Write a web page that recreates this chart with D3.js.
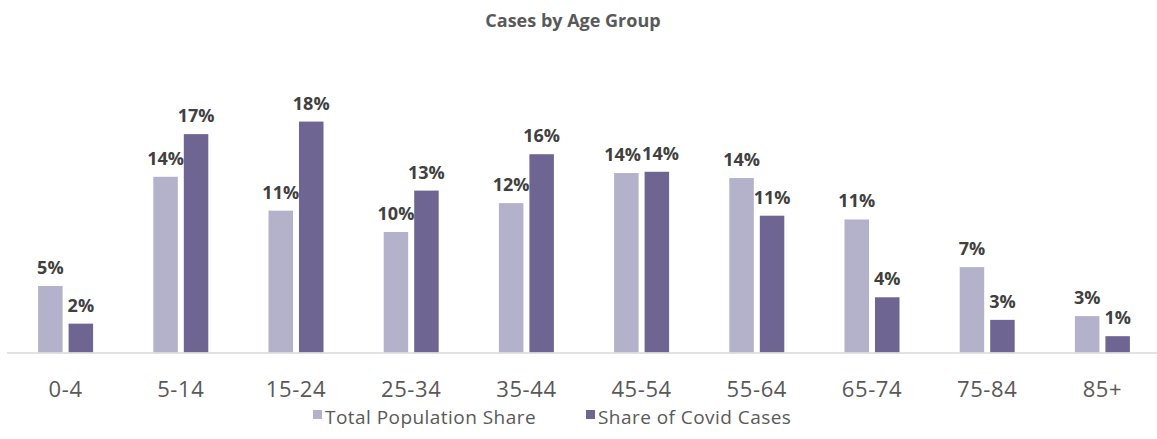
<!DOCTYPE html>
<html>
<head>
<meta charset="utf-8">
<script src="https://cdn.jsdelivr.net/npm/d3@7"></script>
<style>
  html, body { margin: 0; padding: 0; background: #fff; }
  svg { display: block; font-family: "Open Sans", "Noto Sans", sans-serif; }
</style>
</head>
<body>
<svg id="chart" width="1157" height="439"></svg>
<script>
// Age bands along the x axis
const ageGroups = ["0-4", "5-14", "15-24", "25-34", "35-44", "45-54", "55-64", "65-74", "75-84", "85+"];
// Share of the total population in each band (%)
const populationShare = [5.3, 14.0, 11.3, 9.6, 11.9, 14.3, 13.9, 10.6, 6.8, 2.9];
// Share of Covid cases in each band (%)
const covidShare = [2.3, 17.4, 18.4, 12.9, 15.8, 14.4, 10.9, 4.4, 2.6, 1.3];
// Series names for the legend
const seriesNames = ["Total Population Share", "Share of Covid Cases"];
const seriesColors = ["#b4b1cb", "#6f6592"];

const svg = d3.select("#chart");
const W = 1157;

const baseline = 352.5;
const yMax = 20;

const y = d3.scaleLinear().domain([0, yMax]).range([baseline, baseline - 251]);

const x0 = d3.scaleBand()
  .domain(ageGroups)
  .range([8, 1160])
  .paddingInner(0.5226)
  .paddingOuter(0.2613);

const x1 = d3.scaleBand()
  .domain(seriesNames)
  .range([0, x0.bandwidth()])
  .paddingInner(0.197)
  .paddingOuter(0);

const rows = ageGroups.map((g, i) => ({
  group: g,
  values: [
    { key: seriesNames[0], value: populationShare[i] },
    { key: seriesNames[1], value: covidShare[i] }
  ]
}));

const color = d3.scaleOrdinal().domain(seriesNames).range(seriesColors);

// Title
svg.append("text")
  .attr("x", 573)
  .attr("y", 27)
  .attr("text-anchor", "middle")
  .attr("font-size", 18)
  .attr("font-weight", 700)
  .attr("fill", "#595959")
  .text("Cases by Age Group");

// Grouped bars
const groups = svg.append("g").selectAll("g")
  .data(rows)
  .join("g")
  .attr("transform", d => `translate(${x0(d.group)},0)`);

groups.selectAll("rect")
  .data(d => d.values)
  .join("rect")
  .attr("x", d => x1(d.key))
  .attr("width", x1.bandwidth())
  .attr("y", d => y(d.value))
  .attr("height", d => y(0) - y(d.value))
  .attr("fill", d => color(d.key));

// Value labels
groups.selectAll("text")
  .data(d => d.values)
  .join("text")
  .attr("x", d => x1(d.key) + x1.bandwidth() / 2)
  .attr("y", d => y(d.value) - 12)
  .attr("text-anchor", "middle")
  .attr("font-size", 18)
  .attr("font-weight", 700)
  .attr("fill", "#404040")
  .text(d => Math.round(d.value) + "%");

// Push apart the two labels of a group when they collide
groups.each(function () {
  const labels = d3.select(this).selectAll("text").nodes();
  if (labels.length < 2) return;
  const a = labels[0].getBBox(), b = labels[1].getBBox();
  const vOverlap = a.y < b.y + b.height && b.y < a.y + a.height;
  const hOverlap = a.x + a.width - b.x;
  if (vOverlap && hOverlap > 0) {
    const shift = hOverlap / 2 + 0.5;
    d3.select(labels[0]).attr("x", +labels[0].getAttribute("x") - shift);
    d3.select(labels[1]).attr("x", +labels[1].getAttribute("x") + shift);
  }
});

// Category axis
const xAxis = d3.axisBottom(x0).tickSize(0).tickPadding(0);
const axisG = svg.append("g")
  .attr("transform", `translate(0,${baseline})`)
  .call(xAxis);
axisG.select(".domain").remove();
axisG.selectAll("text")
  .attr("y", 44.5)
  .attr("dy", 0)
  .attr("font-size", 22)
  .attr("letter-spacing", 0.6)
  .attr("font-family", "'Open Sans', 'Noto Sans', sans-serif")
  .attr("fill", "#595959");

svg.append("line")
  .attr("x1", 7).attr("x2", W)
  .attr("y1", baseline + 0.5).attr("y2", baseline + 0.5)
  .attr("stroke", "#d9d9d9")
  .attr("stroke-width", 1.5);

// Legend
const legendItems = [
  { name: seriesNames[0], x: 313 },
  { name: seriesNames[1], x: 586 }
];
const legend = svg.append("g").selectAll("g")
  .data(legendItems)
  .join("g")
  .attr("transform", d => `translate(${d.x},0)`);
legend.append("rect")
  .attr("x", 0).attr("y", 410)
  .attr("width", 9).attr("height", 9)
  .attr("fill", d => color(d.name));
legend.append("text")
  .attr("x", 12)
  .attr("y", 424)
  .attr("font-size", 19)
  .attr("letter-spacing", 0.45)
  .attr("fill", "#595959")
  .text(d => d.name);
</script>
</body>
</html>
